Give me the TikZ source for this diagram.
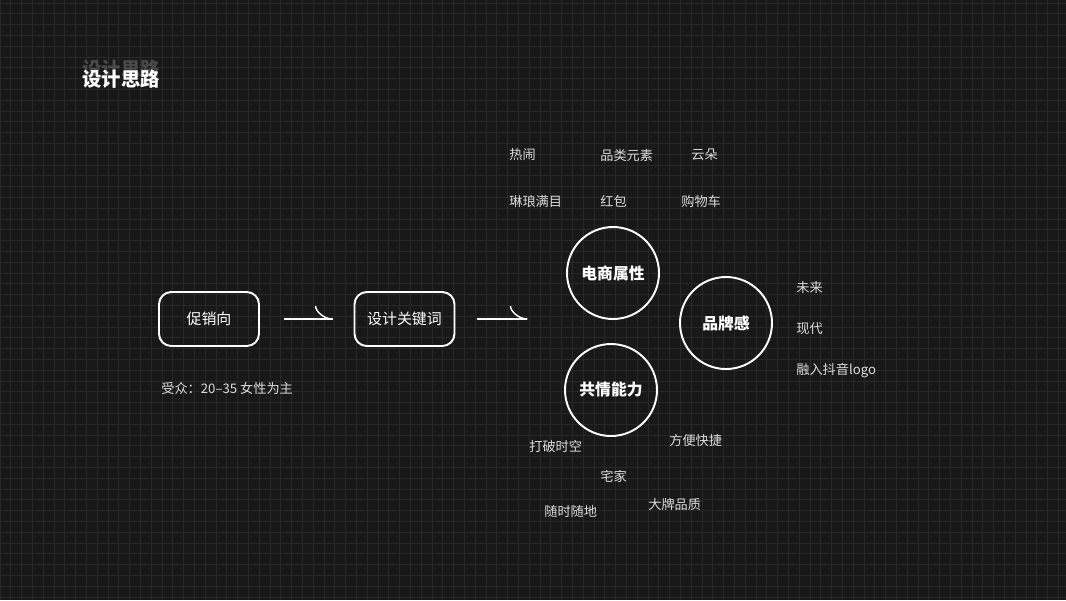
\documentclass[tikz,border=0pt]{standalone}
\usepackage{fontspec}
\setmainfont{Noto Sans CJK SC}
\usepackage{tikz}
\usetikzlibrary{positioning}
\definecolor{bgdark}{HTML}{181818}
\definecolor{gridgray}{HTML}{282828}
\definecolor{ghost}{HTML}{4A4A4A}
\definecolor{labelgray}{HTML}{DCDCDC}

\begin{document}
\begin{tikzpicture}[x=0.02cm, y=-0.02cm,
  keybox/.style={draw=white, line width=1.1pt, rounded corners=7pt, minimum width=100*0.02cm, minimum height=54*0.02cm, font=\fontsize{8.5}{10}\selectfont, text=white},
  topic/.style={circle, draw=white, line width=1.1pt, minimum size=92*0.02cm, inner sep=0pt, font=\fontsize{9}{11}\selectfont\bfseries, text=white},
  tag/.style={anchor=west, inner sep=0pt, font=\fontsize{7.5}{9}\selectfont, text=labelgray},
  conn/.style={draw=white, line width=0.8pt}]
\useasboundingbox (0,0) rectangle (1066,600);
\begin{scope}
\clip (0,0) rectangle (1066,600);
\fill[bgdark] (0,0) rectangle (1066,600);
\foreach \i in {0,...,98} \draw[gridgray, line width=0.4pt] (\i*10.8,0) -- (\i*10.8,600);
\foreach \j in {0,...,55} \draw[gridgray, line width=0.4pt] (0,3+\j*10.8) -- (1066,3+\j*10.8);
\end{scope}

\node[anchor=west, inner sep=0pt, text=ghost, font=\fontsize{11}{13}\selectfont\bfseries] (ghosttitle) at (82,69) {设计思路};
\node[anchor=west, inner sep=0pt, text=white, font=\fontsize{11}{13}\selectfont\bfseries] (title) at (82,79) {设计思路};

\node[keybox] (cuxiao) at (209,319) {促销向};
\node[keybox] (guanjian) at (404.5,319) {设计关键词};
\node[tag] (shouzhong) at (161,388) {受众：20–35 女性为主};

\draw[conn] ([xshift=24*0.02cm]cuxiao.east) -- ([xshift=-21*0.02cm]guanjian.west) coordinate (tipa);
\draw[conn] (tipa) .. controls +(-9,0) and +(0,5) .. +(-17,-13);
\draw[conn] ([xshift=22*0.02cm]guanjian.east) -- +(50,0) coordinate (tipb);
\draw[conn] (tipb) .. controls +(-9,0) and +(0,5) .. +(-17,-13);

\node[topic] (dianshang) at (613,273) {电商属性};
\node[topic] (pinpai) at (726,323) {品牌感};
\node[topic] (gongqing) at (611,390) {共情能力};

\node[tag] (renao) at (509,155) {热闹};
\node[tag] (pinlei) at (600,155) {品类元素};
\node[tag] (yunduo) at (691,155) {云朵};
\node[tag] (linlang) at (509,201) {琳琅满目};
\node[tag] (hongbao) at (600,201) {红包};
\node[tag] (gouwu) at (681,201) {购物车};

\node[tag] (weilai) at (796,287) {未来};
\node[tag] (xiandai) at (796,329) {现代};
\node[tag] (rongru) at (796,371) {融入抖音logo};

\node[tag] (dapo) at (529,446) {打破时空};
\node[tag] (fangbian) at (669,440) {方便快捷};
\node[tag] (zhaijia) at (600,476) {宅家};
\node[tag] (suishi) at (544,511) {随时随地};
\node[tag] (dapai) at (648,504) {大牌品质};
\end{tikzpicture}
\end{document}
